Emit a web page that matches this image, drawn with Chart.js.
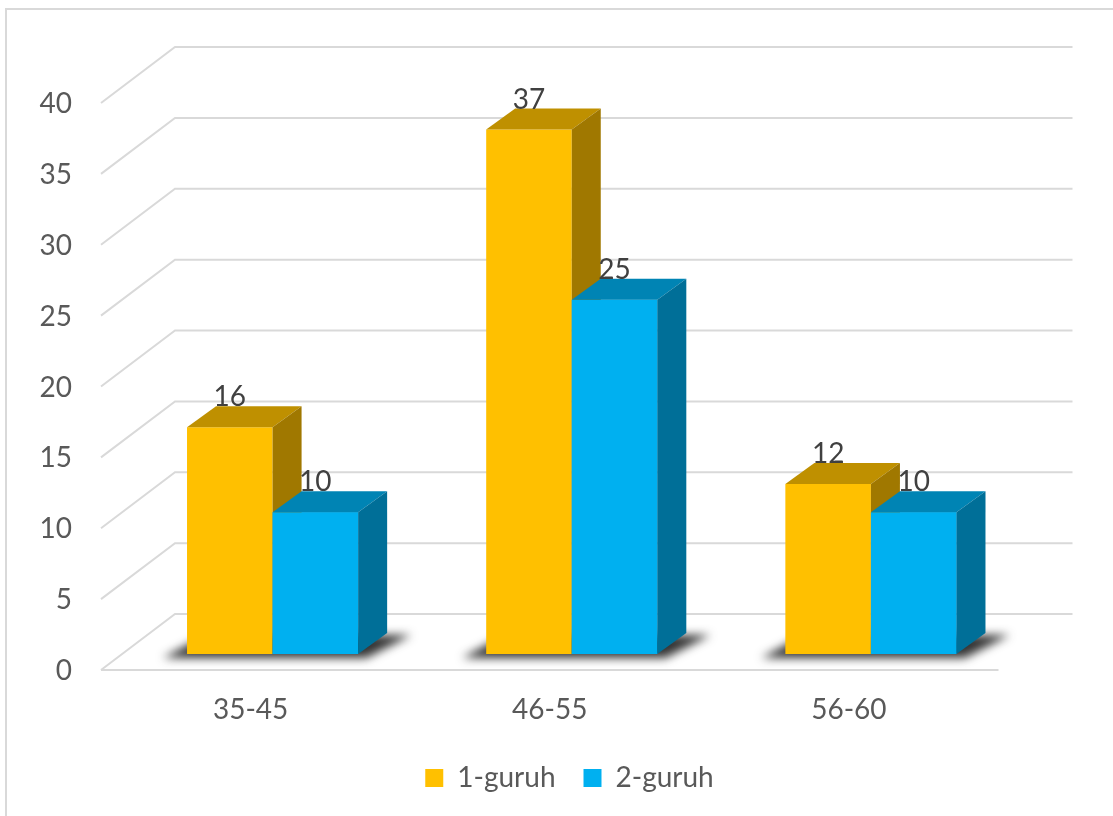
<!DOCTYPE html>
<html>
  <head>
    <style>
      html, body { margin: 0; padding: 0; background: #fff; }
      #chartContainer { width: 1113px; height: 816px; position: relative; }
    </style>
  </head>
  <body>
    <div id="chartContainer">
      <canvas id="myChart"></canvas>
    </div>

    <script src="https://cdn.jsdelivr.net/npm/chart.js"></script>
    <script>
      const ageGroups = ['35-45', '46-55', '56-60'];
      const group1 = [16, 37, 12];
      const group2 = [10, 25, 10];
      const seriesNames = ['1-guruh', '2-guruh'];
      const yTicks = [0, 5, 10, 15, 20, 25, 30, 35, 40];

      const frontColors = ['#FFC000', '#00B0F0'];
      const topColors = ['#BF9000', '#0084B4'];
      const sideColors = ['#A07800', '#006F98'];

      // offsets of the front/back walls relative to the bar plane
      const wall = { fx: -22, fy: 16, bx: 52, by: -40 };
      // depth of each bar box
      const box = { dx: 29, dy: -21 };

      const ctx = document.getElementById('myChart');

      function drawFaces(c, bar, k) {
        const l = bar.x - bar.width / 2, r = bar.x + bar.width / 2, t = bar.y, b = bar.base;
        c.fillStyle = topColors[k];
        c.beginPath();
        c.moveTo(l, t);
        c.lineTo(r, t);
        c.lineTo(r + box.dx, t + box.dy);
        c.lineTo(l + box.dx, t + box.dy);
        c.closePath();
        c.fill();
        c.fillStyle = sideColors[k];
        c.beginPath();
        c.moveTo(r, t);
        c.lineTo(r + box.dx, t + box.dy);
        c.lineTo(r + box.dx, b + box.dy);
        c.lineTo(r, b);
        c.closePath();
        c.fill();
      }

      const walls = {
        id: 'walls',
        beforeDatasetsDraw(chart) {
          const c = chart.ctx, a = chart.chartArea, y = chart.scales.y;
          c.save();
          c.strokeStyle = '#d9d9d9';
          c.lineWidth = 2;
          yTicks.forEach(v => {
            const py = y.getPixelForValue(v);
            c.beginPath();
            c.moveTo(a.left + wall.fx, py + wall.fy);
            c.lineTo(a.left + wall.bx, py + wall.by);
            c.lineTo(a.right + wall.bx, py + wall.by);
            c.stroke();
          });
          const p0 = y.getPixelForValue(0);
          c.beginPath();
          c.moveTo(a.left + wall.fx, p0 + wall.fy);
          c.lineTo(a.right + wall.fx, p0 + wall.fy);
          c.stroke();

          // soft shadows under each group
          const m0 = chart.getDatasetMeta(0), m1 = chart.getDatasetMeta(1);
          c.filter = 'blur(5px)';
          c.fillStyle = 'rgba(30,30,30,0.9)';
          m0.data.forEach((b0, i) => {
            const b1 = m1.data[i];
            const l = b0.x - b0.width / 2, r = b1.x + b1.width / 2, base = b0.base;
            c.beginPath();
            c.moveTo(l - 24, base + 4);
            c.lineTo(r + 8, base + 4);
            c.lineTo(r + box.dx + 24, base + box.dy + 2);
            c.lineTo(l + box.dx - 10, base + box.dy + 2);
            c.closePath();
            c.fill();
          });
          c.restore();
        },
        afterDatasetsDraw(chart) {
          const c = chart.ctx;
          const m0 = chart.getDatasetMeta(0), m1 = chart.getDatasetMeta(1);
          c.save();
          // first series is painted last by Chart.js, so repaint the second one on top of its side faces
          m0.data.forEach(bar => drawFaces(c, bar, 0));
          m1.data.forEach(bar => { bar.draw(c); drawFaces(c, bar, 1); });

          c.font = '28px Lato';
          c.fillStyle = '#404040';
          c.textAlign = 'center';
          c.textBaseline = 'middle';
          chart.data.datasets.forEach((ds, k) => {
            chart.getDatasetMeta(k).data.forEach((bar, i) => {
              c.fillText(String(ds.data[i]), bar.x, bar.y - 30);
            });
          });
          c.restore();
        },
        afterDraw(chart) {
          const c = chart.ctx;
          c.save();
          c.strokeStyle = '#d9d9d9';
          c.lineWidth = 2;
          c.beginPath();
          c.moveTo(6, chart.height);
          c.lineTo(6, 9);
          c.lineTo(chart.width, 9);
          c.stroke();
          c.restore();
        }
      };

      const chart = new Chart(ctx, {
        type: 'bar',
        data: {
          labels: ageGroups,
          datasets: [
            { label: seriesNames[0], data: group1, backgroundColor: frontColors[0] },
            { label: seriesNames[1], data: group2, backgroundColor: frontColors[1] }
          ]
        },
        options: {
          responsive: true,
          maintainAspectRatio: false,
          animation: false,
          datasets: {
            bar: { categoryPercentage: 0.572, barPercentage: 1.0, borderWidth: 0 }
          },
          layout: { padding: { left: 26, right: 0, top: 87, bottom: 14 } },
          plugins: {
            tooltip: { enabled: false },
            legend: {
              position: 'bottom',
              labels: {
                boxWidth: 18,
                boxHeight: 18,
                padding: 28,
                color: '#595959',
                font: { family: 'Lato', size: 28, lineHeight: 1.0 }
              }
            }
          },
          scales: {
            x: {
              grid: { display: false, drawTicks: false },
              border: { display: false },
              ticks: {
                color: '#595959',
                font: { family: 'Lato', size: 28 },
                padding: 39,
                labelOffset: -22
              },
              afterFit: s => { s.height = 82; }
            },
            y: {
              min: 0,
              max: 40,
              grid: { display: false, drawTicks: false },
              border: { display: false },
              ticks: {
                stepSize: 5,
                color: '#595959',
                font: { family: 'Lato', size: 28 },
                padding: 51,
                labelOffset: 17
              },
              afterFit: s => { s.width = 97; }
            },
            yRight: {
              position: 'right',
              display: true,
              grid: { display: false, drawTicks: false },
              border: { display: false },
              ticks: { display: false },
              afterFit: s => { s.width = 92.5; }
            }
          }
        },
        plugins: [walls]
      });
    </script>
  </body>
</html>
